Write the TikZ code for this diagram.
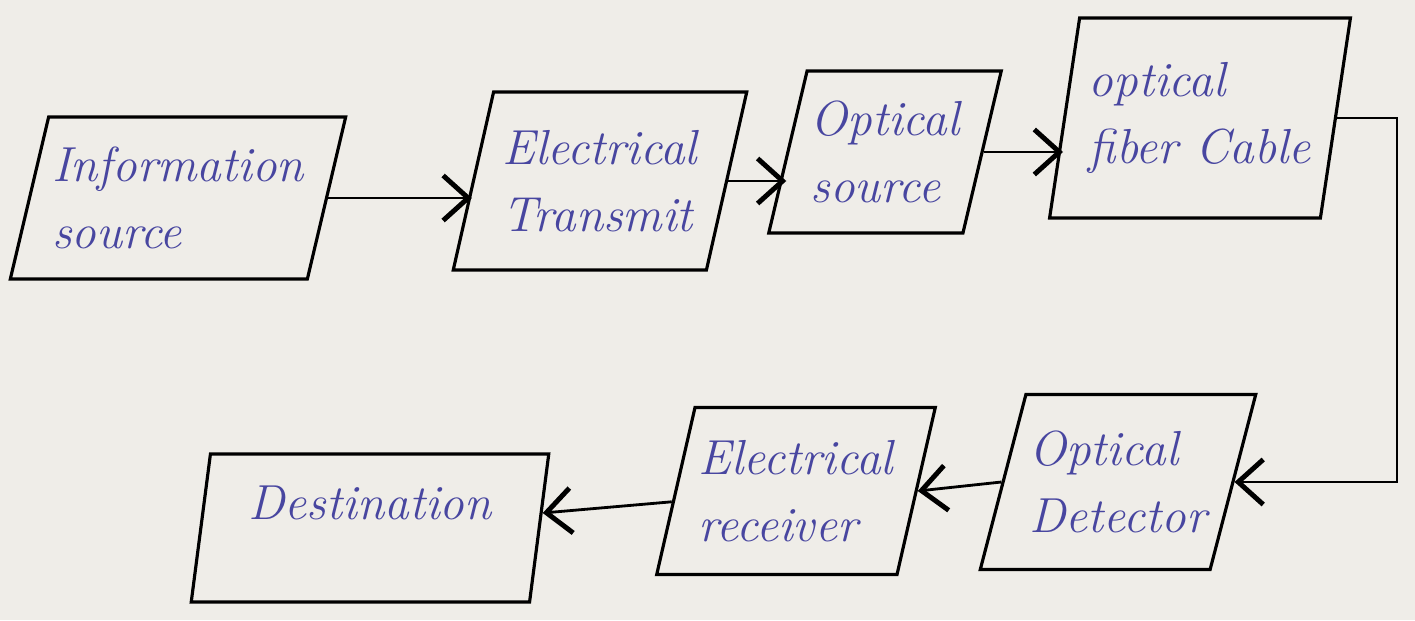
\documentclass[tikz,border=0pt]{standalone}
\usetikzlibrary{shapes.geometric,arrows.meta}

\definecolor{paper}{RGB}{239,237,232}
\definecolor{ink}{RGB}{72,70,160}

\tikzset{
    blockbox/.style={draw, line width=0.9pt, trapezium, trapezium stretches=true,
        trapezium left angle=73, trapezium right angle=107, inner xsep=1pt,
        font=\itshape\fontsize{14}{19}\selectfont, text=ink, align=left},
    link/.style={->, line width=0.8pt},
}

\begin{document}
\begin{tikzpicture}[>={Straight Barb[length=2.5mm,width=4.5mm,line width=1.4pt]}]
            \useasboundingbox[fill=paper] (0, 0) rectangle (14.15, 6.2);

            \node[blockbox, minimum width=3.22cm, minimum height=1.62cm] (info) at (1.78, 4.22) {Information\\ source};
            \node[blockbox, minimum width=2.95cm, minimum height=1.78cm] (etrans) at (6.00, 4.39) {Electrical\\ Transmit};
            \node[blockbox, minimum width=2.18cm, minimum height=1.62cm] (osrc) at (8.85, 4.68) {Optical\\ source};
            \node[blockbox, minimum width=3.03cm, minimum height=2.00cm,
                  trapezium left angle=78, trapezium right angle=102] (fiber) at (12.00, 5.02) {optical\\ fiber Cable};
            \node[blockbox, minimum width=2.68cm, minimum height=1.75cm,
                  trapezium left angle=70, trapezium right angle=110] (odet) at (11.18, 1.38) {Optical\\ Detector};
            \node[blockbox, minimum width=2.80cm, minimum height=1.67cm] (erecv) at (7.96, 1.29) {Electrical\\ receiver};
            \node[blockbox, minimum width=3.59cm, minimum height=1.48cm, text depth=0.5cm,
                  trapezium left angle=82, trapezium right angle=98] (dest) at (3.70, 0.92) {Destination};

            % top row, left to right
            \draw[link] (info.east) -- (info.east -| etrans.west);
            \draw[link] (etrans.east) -- (etrans.east -| osrc.west);
            \draw[link] (osrc.east) -- (osrc.east -| fiber.west);

            % down the right side and back along the bottom row
            \draw[link] (fiber.east) -- ++(0.6, 0) |- (odet.east);
            \draw[link] (odet.west) -- (erecv.east);
            \draw[link] (erecv) -- (dest);
\end{tikzpicture}
\end{document}
